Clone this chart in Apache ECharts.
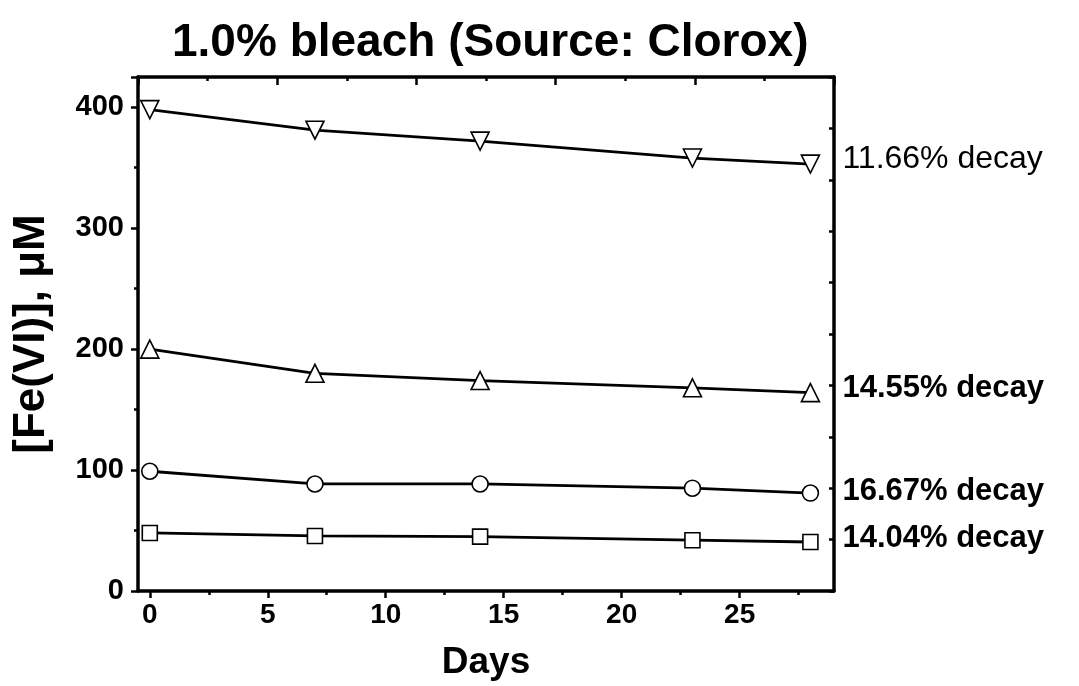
<!DOCTYPE html>
<html>
<head>
<meta charset="utf-8">
<script src="https://cdn.jsdelivr.net/npm/echarts@6/dist/echarts.min.js"></script>
<style>html,body{margin:0;padding:0;background:#fff;}#c{width:1079px;height:686px;}</style>
</head>
<body>
<div id="c"></div>
<script>
const days = [0, 7, 14, 23, 28];
const seriesInvTri = [398, 381, 372, 358, 353];
const seriesTri = [200, 180, 174, 168, 164];
const seriesCircle = [99, 88.5, 88.5, 85, 81];
const seriesSquare = [48, 45.5, 45, 42, 40.5];
const decayLabels = ['11.66% decay', '14.55% decay', '16.67% decay', '14.04% decay'];
const xTickValues = [0, 5, 10, 15, 20, 25];
const xMinorValues = [2.5, 7.5, 12.5, 17.5, 22.5, 27.5];

const FONT = '"Liberation Sans", Arial, sans-serif';
const chart = echarts.init(document.getElementById('c'), null, {renderer: 'canvas'});

function pts(vals) { return days.map((d, i) => [d, vals[i]]); }

function mkSeries(vals, symbol, rot, size, label, off, weight, fs) {
  return {
    type: 'line',
    data: pts(vals),
    xAxisIndex: 0, yAxisIndex: 0,
    symbol: symbol, symbolRotate: rot, symbolSize: size,
    showAllSymbol: true,
    lineStyle: {color: '#000', width: 2.8},
    itemStyle: {color: '#fff', borderColor: '#000', borderWidth: 1.6},
    z: 3,
    clip: false,
    endLabel: {
      show: true, formatter: label, distance: 32, offset: off,
      color: '#000', fontSize: fs, fontFamily: FONT, fontWeight: weight
    },
    emphasis: {disabled: true}
  };
}

const tickStyle = {color: '#000', width: 2.5};

chart.setOption({
  animation: false,
  backgroundColor: '#fff',
  title: {
    text: '1.0% bleach (Source: Clorox)',
    left: 167, top: 15,
    textStyle: {fontSize: 46, fontWeight: 'bold', fontFamily: FONT, color: '#000'}
  },
  grid: {left: 138, right: 245, top: 77, bottom: 95, show: false},
  xAxis: [
    {
      type: 'value', min: -0.5, max: 29, position: 'bottom',
      name: 'Days', nameLocation: 'middle', nameGap: 53,
      nameTextStyle: {fontSize: 37, fontWeight: 'bold', fontFamily: FONT, color: '#000'},
      axisLine: {show: true, onZero: false, lineStyle: {color: '#000', width: 3.5}},
      axisTick: {show: true, inside: false, length: 7, lineStyle: tickStyle, customValues: xTickValues},
      axisLabel: {show: true, margin: 10, fontSize: 28, fontFamily: FONT, fontWeight: 'bold', color: '#000', customValues: xTickValues},
      splitLine: {show: false}
    },
    {
      type: 'value', min: -0.5, max: 29, position: 'bottom', gridIndex: 0,
      axisLine: {show: false, onZero: false},
      axisTick: {show: true, inside: false, length: 4, lineStyle: tickStyle, customValues: xMinorValues},
      axisLabel: {show: false},
      splitLine: {show: false}
    },
    {
      type: 'value', min: 0, max: 10, interval: 2, position: 'top', gridIndex: 0,
      axisLine: {show: true, onZero: false, lineStyle: {color: '#000', width: 3.5}},
      axisTick: {show: true, inside: true, length: 8, lineStyle: tickStyle},
      minorTick: {show: true, splitNumber: 2, length: 4, lineStyle: tickStyle},
      axisLabel: {show: false},
      splitLine: {show: false}
    }
  ],
  yAxis: [
    {
      type: 'value', min: 0, max: 425, interval: 100, position: 'left',
      name: '[Fe(VI)], \u03bcM', nameLocation: 'middle', nameGap: 84,
      nameTextStyle: {fontSize: 44, fontWeight: 'bold', fontFamily: FONT, color: '#000'},
      axisLine: {show: true, onZero: false, lineStyle: {color: '#000', width: 3.5}},
      axisTick: {show: true, inside: false, length: 7, lineStyle: tickStyle},
      minorTick: {show: true, splitNumber: 2, length: 4, lineStyle: tickStyle},
      axisLabel: {show: true, margin: 14, fontSize: 29, fontFamily: FONT, fontWeight: 'bold', color: '#000', showMaxLabel: false},
      splitLine: {show: false}
    },
    {
      type: 'value', min: 0, max: 10, interval: 1, position: 'right',
      axisLine: {show: true, onZero: false, lineStyle: {color: '#000', width: 3.5}},
      axisTick: {show: true, inside: true, length: 5, lineStyle: tickStyle},
      axisLabel: {show: false},
      splitLine: {show: false}
    }
  ],
  series: [
    mkSeries(seriesInvTri, 'triangle', 180, 18, decayLabels[0], [0, -5], 'normal', 32),
    mkSeries(seriesTri, 'triangle', 0, 18, decayLabels[1], [0, -4], 'bold', 31),
    mkSeries(seriesCircle, 'circle', 0, 16, decayLabels[2], [0, -2], 'bold', 31),
    mkSeries(seriesSquare, 'rect', 0, 15, decayLabels[3], [0, -4], 'bold', 31)
  ]
});
</script>
</body>
</html>
